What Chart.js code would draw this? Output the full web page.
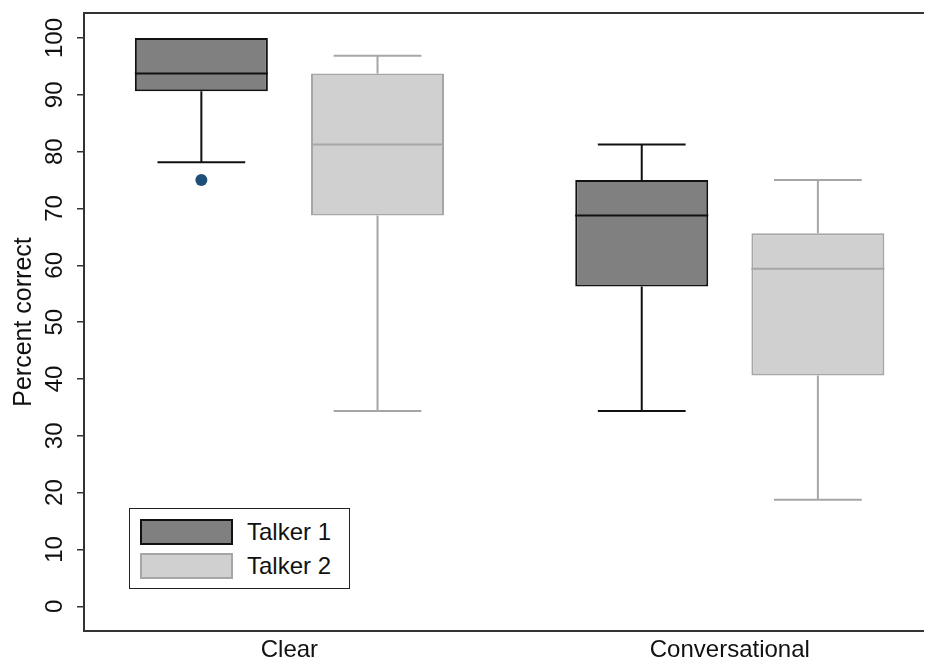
<!DOCTYPE html>
<html>
<head>
<meta charset="utf-8">
<script src="https://cdn.jsdelivr.net/npm/chart.js@4.4.1/dist/chart.umd.min.js"></script>
<style>
  html, body { margin: 0; padding: 0; background: #fff; overflow: hidden; }
  #wrap { position: relative; width: 924px; height: 660px; overflow: hidden; }
  #chart { position: absolute; left: 0; top: 0; }
  #legend {
    position: absolute; left: 129px; top: 508px; width: 221px; height: 81px;
    box-sizing: border-box; border: 1.5px solid #222; background: #fff;
    font-family: 'Liberation Sans', Arial, sans-serif;
    font-size: 24px; color: #111;
  }
  .sw { position: absolute; left: 9.5px; width: 93px; height: 26px; box-sizing: border-box; border: 2px solid; }
  .lbl { position: absolute; left: 117px; line-height: 26px; }
</style>
</head>
<body>
<div id="wrap">
  <canvas id="chart" width="960" height="660"></canvas>
  <div id="legend"></div>
</div>
<script>
// ── Data ──────────────────────────────────────────────────────────
const categories  = ['Clear', 'Conversational'];
const seriesNames = ['Talker 1', 'Talker 2'];

// five-number summaries, one entry per category
const talker1Low      = [78.125, 34.375];
const talker1Q1       = [90.625, 56.25];
const talker1Median   = [93.75, 68.75];
const talker1Q3       = [100, 75];
const talker1High     = [100, 81.25];
const talker1Outliers = [[75], []];

const talker2Low      = [34.375, 18.75];
const talker2Q1       = [68.75, 40.625];
const talker2Median   = [81.25, 59.375];
const talker2Q3       = [93.75, 65.625];
const talker2High     = [96.875, 75];
const talker2Outliers = [[], []];

const yTicks = [0, 10, 20, 30, 40, 50, 60, 70, 80, 90, 100];

// ── Styles ────────────────────────────────────────────────────────
const FONT   = "'Liberation Sans', Arial, sans-serif";
const AXIS   = '#333333';
const STYLES = [
  { fill: '#808080', line: '#111111' },
  { fill: '#d0d0d0', line: '#a6a6a6' },
];
const OUTLIER_COLOR = '#1f4e79';

const summaries = [
  { low: talker1Low, q1: talker1Q1, med: talker1Median, q3: talker1Q3, high: talker1High, out: talker1Outliers },
  { low: talker2Low, q1: talker2Q1, med: talker2Median, q3: talker2Q3, high: talker2High, out: talker2Outliers },
];

// ── Box / whisker plugin ──────────────────────────────────────────
const boxPlugin = {
  id: 'boxWhiskers',
  afterDatasetsDraw(chart) {
    const { ctx } = chart;
    const y = chart.scales.y;
    summaries.forEach((s, i) => {
      const meta = chart.getDatasetMeta(i);
      const st = STYLES[i];
      meta.data.forEach((bar, j) => {
        const cx = bar.x, w = bar.width, cap = w * 0.66;
        ctx.save();
        ctx.strokeStyle = st.line;
        ctx.lineWidth = 2;
        ctx.beginPath();
        // median
        ctx.moveTo(cx - w / 2, y.getPixelForValue(s.med[j]));
        ctx.lineTo(cx + w / 2, y.getPixelForValue(s.med[j]));
        // upper whisker
        if (s.high[j] > s.q3[j]) {
          ctx.moveTo(cx, y.getPixelForValue(s.q3[j]));
          ctx.lineTo(cx, y.getPixelForValue(s.high[j]));
          ctx.moveTo(cx - cap / 2, y.getPixelForValue(s.high[j]));
          ctx.lineTo(cx + cap / 2, y.getPixelForValue(s.high[j]));
        }
        // lower whisker
        if (s.low[j] < s.q1[j]) {
          ctx.moveTo(cx, y.getPixelForValue(s.q1[j]));
          ctx.lineTo(cx, y.getPixelForValue(s.low[j]));
          ctx.moveTo(cx - cap / 2, y.getPixelForValue(s.low[j]));
          ctx.lineTo(cx + cap / 2, y.getPixelForValue(s.low[j]));
        }
        ctx.stroke();
        // outliers
        ctx.fillStyle = OUTLIER_COLOR;
        s.out[j].forEach(v => {
          ctx.beginPath();
          ctx.arc(cx, y.getPixelForValue(v), 6, 0, Math.PI * 2);
          ctx.fill();
        });
        ctx.restore();
      });
    });
  },
  afterDraw(chart) {
    const { ctx, chartArea } = chart;
    const y = chart.scales.y;
    ctx.save();
    // top frame line (the right edge of the plot runs off the page)
    ctx.strokeStyle = AXIS;
    ctx.lineWidth = 2;
    ctx.beginPath();
    ctx.moveTo(chartArea.left - 1, chartArea.top);
    ctx.lineTo(chart.width, chartArea.top);
    ctx.stroke();
    // rotated y tick labels
    ctx.fillStyle = '#111';
    ctx.font = '24px ' + FONT;
    ctx.textAlign = 'center';
    ctx.textBaseline = 'alphabetic';
    yTicks.forEach(v => {
      ctx.save();
      ctx.translate(y.right - 22, y.getPixelForValue(v));
      ctx.rotate(-Math.PI / 2);
      ctx.fillText(String(v), 0, 0);
      ctx.restore();
    });
    ctx.restore();
  },
};

// ── Chart ─────────────────────────────────────────────────────────
const datasets = summaries.map((s, i) => ({
  label: seriesNames[i],
  data: categories.map((c, j) => ({ x: j + 1, y: [s.q1[j], s.q3[j]] })),
  backgroundColor: STYLES[i].fill,
  borderColor: STYLES[i].line,
  borderWidth: 2,
  borderSkipped: false,
  barPercentage: 0.755,
  categoryPercentage: 0.8,
}));

new Chart(document.getElementById('chart'), {
  type: 'bar',
  data: { datasets },
  options: {
    responsive: false,
    animation: false,
    layout: { padding: { top: 13, left: 0, right: 10, bottom: 0 } },
    plugins: { legend: { display: false }, tooltip: { enabled: false } },
    scales: {
      x: {
        type: 'linear',
        offset: false,
        min: 0.5335,
        max: 2.5,
        afterBuildTicks: sc => { sc.ticks = categories.map((c, j) => ({ value: j + 1 })); },
        afterFit: sc => { sc.height = 29; },
        grid: { display: false, drawTicks: false, offset: false },
        border: { display: true, color: AXIS, width: 2 },
        ticks: {
          color: '#111',
          padding: 5,
          font: { family: FONT, size: 24 },
          callback: v => categories[Math.round(v) - 1],
        },
      },
      y: {
        min: -4.35,
        max: 104.4,
        afterBuildTicks: sc => { sc.ticks = yTicks.map(v => ({ value: v })); },
        afterFit: sc => { sc.width = 84; },
        grid: { drawOnChartArea: false, drawTicks: true, tickLength: 7, color: AXIS, lineWidth: 1.5 },
        border: { display: true, color: AXIS, width: 2 },
        ticks: { display: false },
        title: {
          display: true,
          text: 'Percent correct',
          color: '#111',
          font: { family: FONT, size: 25 },
          padding: { top: 9, bottom: 0 },
        },
      },
    },
  },
  plugins: [boxPlugin],
});

// ── Legend (inside plot, bottom-left) ─────────────────────────────
const legend = document.getElementById('legend');
seriesNames.forEach((name, i) => {
  const top = 10 + i * 34;
  legend.insertAdjacentHTML('beforeend',
    `<span class="sw" style="top:${top}px;background:${STYLES[i].fill};border-color:${STYLES[i].line}"></span>` +
    `<span class="lbl" style="top:${top}px">${name}</span>`);
});
</script>
</body>
</html>
